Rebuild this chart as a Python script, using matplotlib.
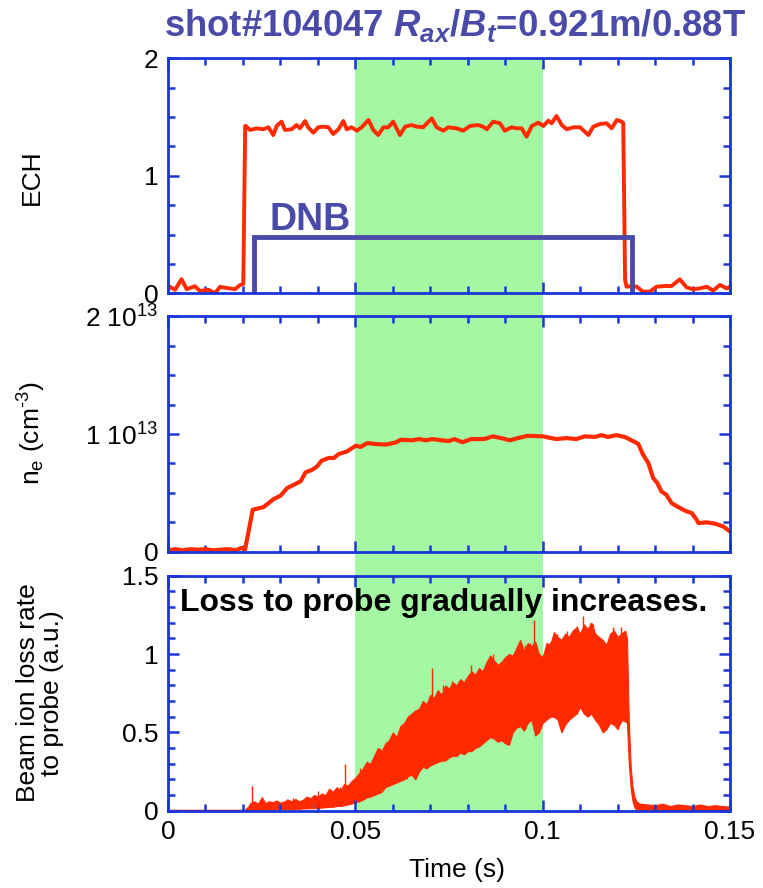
import matplotlib
matplotlib.use("Agg")
import matplotlib.pyplot as plt
from matplotlib.patches import Rectangle
from matplotlib.transforms import blended_transform_factory
from matplotlib.ticker import MultipleLocator

plt.rcParams['font.family'] = ['Liberation Sans', 'DejaVu Sans']
plt.rcParams['mathtext.fontset'] = 'custom'
plt.rcParams['mathtext.rm'] = 'Liberation Sans'
plt.rcParams['mathtext.it'] = 'Liberation Sans:italic'
plt.rcParams['mathtext.bf'] = 'Liberation Sans:bold'
plt.rcParams['mathtext.bfit'] = 'Liberation Sans:bold:italic'

# ---- ECH power trace (a.u.) ----
ech_t = [0.0, 0.0005, 0.0019, 0.0036, 0.005, 0.0072, 0.0085, 0.0108, 0.0125, 0.0139,
         0.0157, 0.0179, 0.0192, 0.0201, 0.0206, 0.0208, 0.0219, 0.0237, 0.0254, 0.0268,
         0.0281, 0.029, 0.0303, 0.0312, 0.033, 0.0343, 0.0352, 0.0366, 0.0374, 0.0388,
         0.0401, 0.0414, 0.0428, 0.0441, 0.0455, 0.0468, 0.0477, 0.049, 0.0504, 0.0517,
         0.0535, 0.0548, 0.0561, 0.0575, 0.0588, 0.0601, 0.0619, 0.0633, 0.065, 0.0664,
         0.0681, 0.0704, 0.0717, 0.0735, 0.0748, 0.077, 0.0788, 0.0806, 0.0828, 0.0841,
         0.0851, 0.0868, 0.0886, 0.0899, 0.0917, 0.0931, 0.0944, 0.0957, 0.0971, 0.0988,
         0.1002, 0.1015, 0.1024, 0.1037, 0.1051, 0.1064, 0.1082, 0.11, 0.1122, 0.1135,
         0.1153, 0.1171, 0.1184, 0.1198, 0.1211, 0.1215, 0.1220, 0.1224, 0.1238, 0.1251,
         0.1268, 0.1286, 0.1304, 0.1326, 0.1344, 0.1366, 0.1384, 0.1402, 0.142, 0.1438,
         0.1455, 0.1473, 0.1491, 0.15]
ech_v = [0.03, 0.056, 0.03, 0.12, 0.035, 0.06, 0.02, 0.03, 0.0, 0.055,
         0.045, 0.035, 0.07, 0.08, 1.424, 1.424, 1.39, 1.404, 1.396, 1.413,
         1.347, 1.424, 1.461, 1.39, 1.396, 1.432, 1.404, 1.466, 1.413, 1.367,
         1.413, 1.418, 1.413, 1.356, 1.396, 1.466, 1.396, 1.413, 1.384, 1.413,
         1.475, 1.39, 1.347, 1.413, 1.413, 1.461, 1.347, 1.418, 1.432, 1.418,
         1.413, 1.489, 1.413, 1.384, 1.413, 1.404, 1.384, 1.424, 1.432, 1.418,
         1.396, 1.461, 1.447, 1.384, 1.413, 1.404, 1.404, 1.333, 1.424, 1.452,
         1.424, 1.469, 1.447, 1.509, 1.432, 1.396, 1.413, 1.413, 1.347, 1.418,
         1.441, 1.447, 1.404, 1.475, 1.461, 1.45, 0.113, 0.056, 0.062, 0.056,
         0.014, 0.014, 0.056, 0.062, 0.062, 0.119, 0.051, 0.034, 0.042, 0.056,
         0.023, 0.071, 0.042, 0.056]

# ---- DNB injection window ----
dnb_t = [0.0229, 0.0229, 0.1238, 0.1238]
dnb_v = [0.0, 0.48, 0.48, 0.0]

# ---- line-averaged electron density (10^13 cm^-3) ----
ne_t = [0.0, 0.002, 0.004, 0.006, 0.008, 0.010, 0.012, 0.014, 0.016, 0.018,
        0.0195, 0.0206, 0.0226, 0.0255, 0.0282, 0.030, 0.0318, 0.0345, 0.0354, 0.0367,
        0.0385, 0.0398, 0.041, 0.0429, 0.0443, 0.0456, 0.0478, 0.0501, 0.0514, 0.0532,
        0.0554, 0.0581, 0.0608, 0.0621, 0.0652, 0.067, 0.0688, 0.0705, 0.0732, 0.075,
        0.0764, 0.0786, 0.0809, 0.0844, 0.0867, 0.0894, 0.0912, 0.0934, 0.096, 0.1,
        0.1036, 0.1063, 0.109, 0.1112, 0.1139, 0.1157, 0.1174, 0.1197, 0.1219, 0.1237,
        0.1255, 0.1268, 0.1282, 0.1295, 0.1306, 0.1317, 0.133, 0.1344, 0.1362, 0.138,
        0.1398, 0.1411, 0.1416, 0.1438, 0.1461, 0.1482, 0.15]
ne_v = [0.01, 0.02, 0.01, 0.02, 0.015, 0.02, 0.01, 0.015, 0.02, 0.01,
        0.03, 0.02, 0.355, 0.378, 0.446, 0.474, 0.54, 0.583, 0.597, 0.673,
        0.696, 0.724, 0.773, 0.796, 0.796, 0.83, 0.852, 0.90, 0.89, 0.923,
        0.915, 0.91, 0.928, 0.951, 0.946, 0.957, 0.946, 0.957, 0.946, 0.94,
        0.957, 0.93, 0.957, 0.957, 0.98, 0.962, 0.946, 0.965, 0.985, 0.98,
        0.957, 0.965, 0.957, 0.98, 0.975, 0.99, 0.975, 0.99, 0.975, 0.946,
        0.917, 0.824, 0.753, 0.625, 0.583, 0.511, 0.483, 0.412, 0.378, 0.347,
        0.327, 0.27, 0.242, 0.248, 0.236, 0.213, 0.17]

# ---- beam ion loss signal: lower / upper envelope of the fast fluctuation ----
loss_t = [0.0, 0.010, 0.0205, 0.0215, 0.022, 0.023, 0.024, 0.025, 0.026, 0.027,
          0.028, 0.029, 0.030, 0.031, 0.032, 0.033, 0.034, 0.035, 0.036, 0.037,
          0.038, 0.039, 0.040, 0.041, 0.042, 0.043, 0.044, 0.045, 0.046, 0.047,
          0.048, 0.049, 0.050, 0.051, 0.052, 0.053, 0.054, 0.055, 0.056, 0.057,
          0.058, 0.059, 0.060, 0.061, 0.062, 0.063, 0.064, 0.065, 0.066, 0.067,
          0.068, 0.069, 0.070, 0.071, 0.072, 0.073, 0.074, 0.075, 0.076, 0.077,
          0.078, 0.079, 0.080, 0.081, 0.082, 0.083, 0.084, 0.085, 0.086, 0.087,
          0.088, 0.089, 0.090, 0.091, 0.092, 0.093, 0.094, 0.095, 0.096, 0.097,
          0.098, 0.099, 0.100, 0.101, 0.102, 0.103, 0.104, 0.105, 0.106, 0.107,
          0.108, 0.109, 0.110, 0.111, 0.112, 0.113, 0.114, 0.115, 0.116, 0.117,
          0.118, 0.119, 0.120, 0.121, 0.122, 0.1225, 0.1230, 0.1235, 0.124, 0.1245,
          0.125, 0.126, 0.128, 0.130, 0.132, 0.134, 0.136, 0.138, 0.140, 0.142,
          0.144, 0.146, 0.148, 0.150]
loss_lo = [0.0, 0.0, 0.0, 0.003, 0.005, 0.005, 0.006, 0.006, 0.008, 0.008,
           0.008, 0.010, 0.010, 0.010, 0.010, 0.012, 0.012, 0.012, 0.014, 0.015,
           0.016, 0.016, 0.018, 0.020, 0.022, 0.025, 0.025, 0.030, 0.030, 0.035,
           0.040, 0.045, 0.055, 0.060, 0.070, 0.085, 0.090, 0.100, 0.110, 0.120,
           0.150, 0.160, 0.170, 0.180, 0.190, 0.200, 0.220, 0.230, 0.200, 0.250,
           0.280, 0.270, 0.290, 0.300, 0.310, 0.320, 0.320, 0.340, 0.350, 0.350,
           0.370, 0.360, 0.380, 0.380, 0.400, 0.410, 0.430, 0.450, 0.470, 0.460,
           0.440, 0.450, 0.430, 0.420, 0.500, 0.530, 0.540, 0.510, 0.560, 0.580,
           0.480, 0.500, 0.560, 0.580, 0.600, 0.600, 0.580, 0.500, 0.550, 0.580,
           0.600, 0.620, 0.660, 0.620, 0.600, 0.620, 0.580, 0.550, 0.500, 0.520,
           0.560, 0.550, 0.520, 0.580, 0.570, 0.560, 0.300, 0.140, 0.060, 0.020,
           0.008, 0.006, 0.005, 0.004, 0.004, 0.004, 0.004, 0.004, 0.004, 0.004,
           0.004, 0.004, 0.004, 0.004]
loss_hi = [0.006, 0.006, 0.006, 0.030, 0.050, 0.060, 0.045, 0.085, 0.050, 0.060,
           0.055, 0.065, 0.050, 0.060, 0.070, 0.060, 0.075, 0.060, 0.070, 0.090,
           0.080, 0.100, 0.090, 0.110, 0.100, 0.140, 0.120, 0.150, 0.130, 0.170,
           0.160, 0.190, 0.210, 0.240, 0.270, 0.310, 0.300, 0.350, 0.400, 0.380,
           0.430, 0.450, 0.500, 0.470, 0.540, 0.560, 0.600, 0.620, 0.640, 0.650,
           0.700, 0.680, 0.740, 0.720, 0.770, 0.740, 0.800, 0.780, 0.820, 0.800,
           0.840, 0.820, 0.860, 0.890, 0.870, 0.910, 0.890, 0.950, 0.990, 0.960,
           0.930, 0.950, 0.980, 1.000, 0.990, 1.040, 1.090, 1.020, 1.070, 1.050,
           1.080, 1.000, 0.980, 1.070, 1.060, 1.140, 1.110, 1.090, 1.130, 1.110,
           1.150, 1.170, 1.130, 1.190, 1.160, 1.200, 1.130, 1.110, 1.090, 1.060,
           1.130, 1.150, 1.110, 1.130, 1.150, 1.100, 0.560, 0.280, 0.150, 0.090,
           0.060, 0.045, 0.040, 0.035, 0.045, 0.030, 0.040, 0.035, 0.030, 0.040,
           0.030, 0.035, 0.030, 0.025]

# isolated spikes rising above the fluctuation band
spike_t = [0.0223, 0.0250, 0.0317, 0.0334, 0.0401, 0.0432, 0.0459, 0.0472, 0.0512, 0.0530,
           0.0566, 0.0601, 0.0637, 0.0668, 0.0681, 0.0704, 0.0735, 0.0757, 0.0779, 0.0810,
           0.0833, 0.0859, 0.0868, 0.0904, 0.0939, 0.0953, 0.0966, 0.0977, 0.1019, 0.1037,
           0.1064, 0.1091, 0.1108, 0.1126, 0.1135, 0.1188, 0.1210, 0.1220]
spike_top = [0.158, 0.085, 0.075, 0.080, 0.127, 0.140, 0.150, 0.298, 0.270, 0.320,
             0.400, 0.490, 0.580, 0.640, 0.700, 0.910, 0.800, 0.830, 0.800, 0.930,
             0.900, 0.990, 1.000, 0.990, 1.080, 1.060, 1.070, 1.220, 1.080, 1.130,
             1.150, 1.180, 1.240, 1.200, 1.190, 1.170, 1.170, 1.140]
spike_base = [0.005, 0.010, 0.010, 0.010, 0.020, 0.030, 0.030, 0.100, 0.080, 0.090,
              0.110, 0.170, 0.200, 0.240, 0.280, 0.500, 0.320, 0.350, 0.550, 0.600,
              0.410, 0.700, 0.470, 0.430, 0.800, 0.520, 0.580, 0.800, 0.600, 0.800,
              0.600, 0.620, 0.900, 0.620, 0.600, 0.550, 0.560, 0.800]

# ---- shaded time window ----
window = (0.05, 0.10)

RED = '#ff2a00'
FRAME = '#1a36d8'
TITLE_BLUE = '#4a4aa8'
GREEN = '#a4f8a4'

W, H = 763, 888
fig = plt.figure(figsize=(W / 100, H / 100), dpi=100)

left = 168 / W
width = (730 - 168) / W
ph = 235 / H
ax1 = fig.add_axes([left, 1 - 293.3 / H, width, ph])
ax2 = fig.add_axes([left, 1 - 551.5 / H, width, ph])
ax3 = fig.add_axes([left, 1 - 810.7 / H, width, ph])
axes = [ax1, ax2, ax3]

for ax in axes:
    ax.set_xlim(0, 0.15)
    ax.set_facecolor('none')
    for sp in ax.spines.values():
        sp.set_color(FRAME)
        sp.set_linewidth(2.0)
    ax.xaxis.set_major_locator(MultipleLocator(0.05))
    ax.xaxis.set_minor_locator(MultipleLocator(0.01))
    ax.tick_params(which='both', direction='in', top=True, right=True,
                   color=FRAME, width=1.8, labelsize=19, labelcolor='black')
    ax.tick_params(which='major', length=8, pad=7)
    ax.tick_params(which='minor', length=5)

# green window spanning all three panels and the gaps between them
trans = blended_transform_factory(ax3.transData, fig.transFigure)
y_bot = 1 - 810.7 / H
y_top = 1 - 58.3 / H
fig.add_artist(Rectangle((window[0], y_bot), window[1] - window[0], y_top - y_bot,
                         transform=trans, facecolor=GREEN, edgecolor='none', zorder=-1))

# top panel: ECH and DNB
ax1.plot(ech_t, ech_v, color=RED, lw=2.8, solid_joinstyle='round')
ax1.plot(dnb_t, dnb_v, color=TITLE_BLUE, lw=3.5, solid_joinstyle='miter')
ax1.text(0.0272, 0.54, 'DNB', color=TITLE_BLUE, fontsize=27, fontweight='bold',
         ha='left', va='baseline')
ax1.set_ylim(0, 2)
ax1.yaxis.set_major_locator(MultipleLocator(1))
ax1.yaxis.set_minor_locator(MultipleLocator(0.25))
ax1.tick_params(labelbottom=False)

# middle panel: density
ax2.plot(ne_t, [v * 1e13 for v in ne_v], color=RED, lw=3.0, solid_joinstyle='round')
ax2.set_ylim(0, 2e13)
ax2.set_yticks([0, 1e13, 2e13], labels=['0', r'1 10$^{13}$', r'2 10$^{13}$'])
ax2.yaxis.set_minor_locator(MultipleLocator(2.5e12))
ax2.tick_params(labelbottom=False)

# bottom panel: beam ion loss signal
ax3.fill_between(loss_t, loss_lo, loss_hi, facecolor=RED, edgecolor=RED, lw=0.8)
ax3.vlines(spike_t, spike_base, spike_top, color=RED, lw=1.0)
ax3.set_ylim(0, 1.5)
ax3.set_yticks([0, 0.5, 1, 1.5], labels=['0', '0.5', '1', '1.5'])
ax3.yaxis.set_minor_locator(MultipleLocator(0.1))
ax3.set_xticks([0, 0.05, 0.1, 0.15], labels=['0', '0.05', '0.1', '0.15'])
ax3.text(0.0033, 1.325, 'Loss to probe gradually increases.', fontsize=23,
         fontweight='bold', color='black', ha='left', va='center')

# axis labels
fig.text(32 / W, 1 - 177 / H, 'ECH', rotation=90, fontsize=19, ha='center', va='center')
fig.text(32 / W, 1 - 433 / H, 'n$_\\mathregular{e}$ (cm$^\\mathregular{\u20103}$)', rotation=90,
         fontsize=19, ha='center', va='center')
fig.text(40 / W, 1 - 693 / H, 'Beam ion loss rate\nto probe (a.u.)', rotation=90,
         fontsize=19, ha='center', va='center', linespacing=1.0)
fig.text(457 / W, 1 - 870 / H, 'Time (s)', fontsize=19, ha='center', va='center')

fig.text(455 / W, 1 - 25 / H,
         r'shot#104047 $\mathbfit{R}_{\mathbfit{ax}}$/$\mathbfit{B}_{\mathbfit{t}}$=0.921m/0.88T',
         fontsize=26.3, fontweight='bold', color=TITLE_BLUE, ha='center', va='center')

fig.savefig('out.png', dpi=100)
